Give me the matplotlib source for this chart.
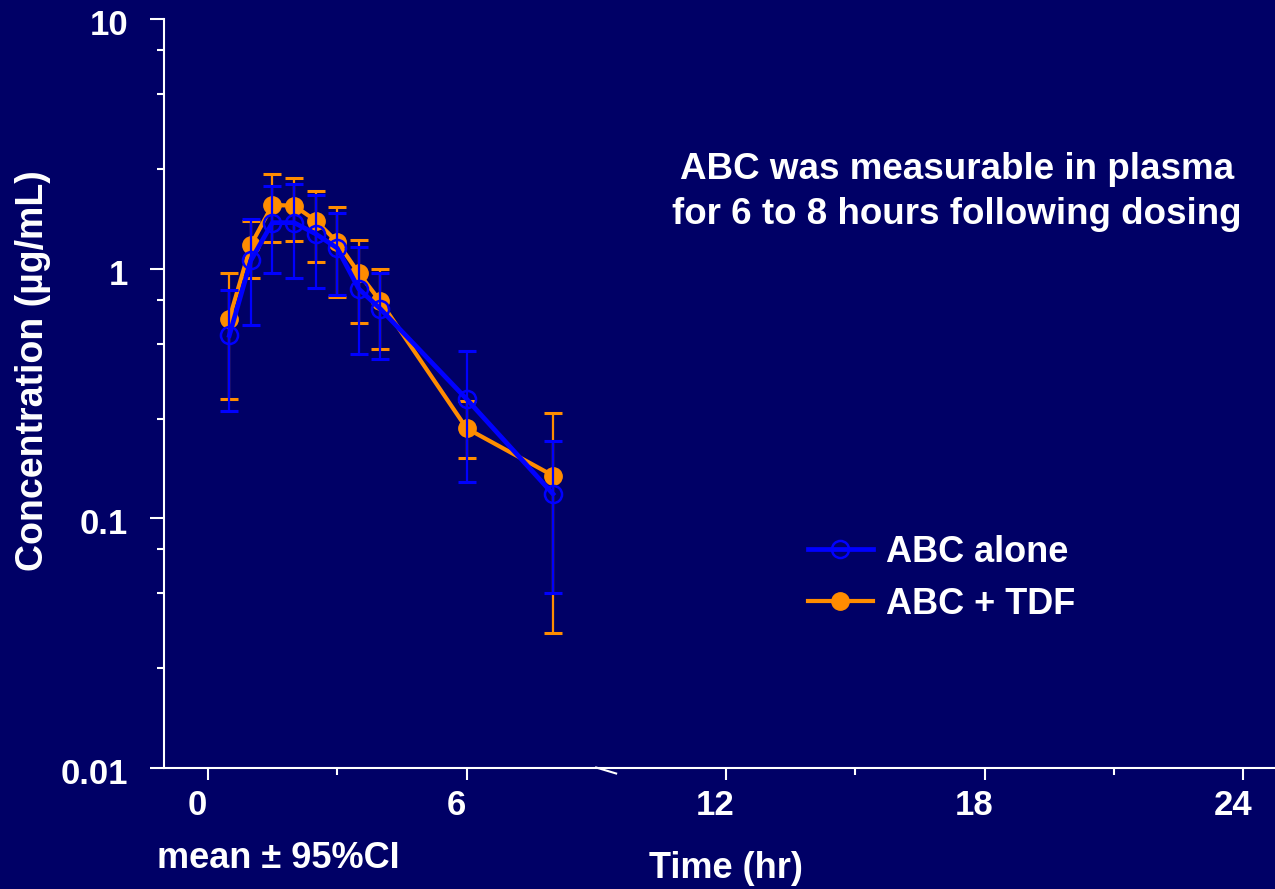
import numpy as np
import matplotlib
matplotlib.use("Agg")
import matplotlib.pyplot as plt
from matplotlib.transforms import ScaledTranslation, blended_transform_factory
from matplotlib.ticker import FixedLocator, NullFormatter

plt.rcParams["font.family"] = ["Liberation Sans", "DejaVu Sans"]
plt.rcParams["font.weight"] = "bold"

BG, BLUE, ORANGE, WHITE = "#000066", "#0000FF", "#FF8C00", "white"

# ── data ──────────────────────────────────────────────────────────────────────
time_hr   = [0.5, 1, 1.5, 2, 2.5, 3, 3.5, 4, 6, 8]
abc_alone = [0.54, 1.08, 1.53, 1.53, 1.38, 1.21, 0.83, 0.69, 0.30, 0.125]
alone_lo  = [0.27, 0.595, 0.96, 0.915, 0.84, 0.785, 0.455, 0.435, 0.14, 0.050]
alone_hi  = [0.82, 1.58, 2.15, 2.19, 1.97, 1.68, 1.22, 0.96, 0.467, 0.203]
abc_tdf   = [0.63, 1.245, 1.80, 1.79, 1.56, 1.28, 0.96, 0.74, 0.229, 0.148]
tdf_lo    = [0.30, 0.918, 1.28, 1.29, 1.067, 0.773, 0.604, 0.475, 0.174, 0.0345]
tdf_hi    = [0.96, 1.55, 2.39, 2.30, 2.05, 1.76, 1.30, 1.00, 0.295, 0.264]

x_major = [0, 6, 12, 18, 24]
x_minor = [3, 15, 21]
y_major = [0.01, 0.1, 1, 10]
y_labels = ["0.01", "0.1", "1", "10"]
y_minor = [m * d for d in (0.01, 0.1, 1) for m in (2.5, 5, 7.5)]

W, H = 1275, 889
fig = plt.figure(figsize=(W/100, H/100), dpi=100, facecolor=BG)
ax = fig.add_axes([164.3/W, 1-767.5/H, 1-164.3/W, (767.5-19.3)/H])
ax.set_facecolor(BG)

def yerr(v, lo, hi):
    v, lo, hi = map(np.asarray, (v, lo, hi))
    return np.vstack([v-lo, hi-v])

# orange first, blue on top
ax.errorbar(time_hr, abc_tdf, yerr=yerr(abc_tdf, tdf_lo, tdf_hi), fmt="none",
            ecolor=ORANGE, elinewidth=1.6, capsize=6.5, capthick=2.2, zorder=2)
ax.plot(time_hr, abc_tdf, "-o", color=ORANGE, lw=3.0, ms=12.5, mfc=ORANGE, mec=ORANGE,
        zorder=3, label="ABC + TDF")
ax.errorbar(time_hr, abc_alone, yerr=yerr(abc_alone, alone_lo, alone_hi), fmt="none",
            ecolor=BLUE, elinewidth=1.6, capsize=6.5, capthick=2.2, zorder=4)
ax.plot(time_hr, abc_alone, "-o", color=BLUE, lw=3.4, ms=12.3, mfc="none", mec=BLUE, mew=1.8,
        zorder=5, label="ABC alone")

ax.set_yscale("log")
ax.set_ylim(0.01, 10)
ax.set_xlim(-1.006, 24.73)

for s in ("top", "right"):
    ax.spines[s].set_visible(False)
for s in ("left", "bottom"):
    ax.spines[s].set_color(WHITE); ax.spines[s].set_linewidth(1.5)

ax.xaxis.set_major_locator(FixedLocator(x_major))
ax.xaxis.set_minor_locator(FixedLocator(x_minor))
ax.set_xticklabels([str(v) for v in x_major])
ax.yaxis.set_major_locator(FixedLocator(y_major))
ax.yaxis.set_minor_locator(FixedLocator(y_minor))
ax.yaxis.set_minor_formatter(NullFormatter())
ax.set_yticklabels(y_labels)

ax.tick_params(axis="x", which="major", direction="out", length=8.6, width=1.5,
               color=WHITE, labelcolor=WHITE, labelsize=25, pad=7)
ax.tick_params(axis="x", which="minor", direction="out", length=5, width=1.5, color=WHITE)
ax.tick_params(axis="y", which="major", direction="out", length=10, width=1.5,
               color=WHITE, labelcolor=WHITE, labelsize=25, pad=16)
ax.tick_params(axis="y", which="minor", direction="out", length=5, width=1.5, color=WHITE)
for lbl in ax.get_xticklabels():
    lbl.set_fontweight("bold")
    lbl.set_transform(lbl.get_transform() + ScaledTranslation(-0.10, 0, fig.dpi_scale_trans))
for lbl in ax.get_yticklabels():
    lbl.set_fontweight("bold")
    lbl.set_transform(lbl.get_transform() + ScaledTranslation(0, -0.03, fig.dpi_scale_trans))

# slanted tick at 9 h (as in the original slide)
tr = blended_transform_factory(ax.transData, ax.transAxes)
ax.plot([9, 9 + 20/43.16], [0, -6/748.2], color=WHITE, lw=1.5, transform=tr, clip_on=False)

# labels
fig.text(33/W, 1-371/H, "Concentration (\u00b5g/mL)", rotation=90, color=WHITE,
         fontsize=27, fontweight="bold", ha="center", va="center")
fig.text(726/W, 1-868/H, "Time (hr)", color=WHITE, fontsize=26, fontweight="bold",
         ha="center", va="center")
fig.text(157/W, 1-858/H, "mean \u00b1 95%CI", color=WHITE, fontsize=26, fontweight="bold",
         ha="left", va="center")
fig.text(957/W, 1-192/H, "ABC was measurable in plasma\nfor 6 to 8 hours following dosing",
         color=WHITE, fontsize=26.5, fontweight="bold", ha="center", va="center", linespacing=1.4)

handles, labels = ax.get_legend_handles_labels()
leg = ax.legend(handles[::-1], labels[::-1], loc="upper left",
                bbox_to_anchor=(808/W, 1-535/H), bbox_transform=fig.transFigure,
                frameon=False, fontsize=26, handlelength=1.8, handletextpad=0.35,
                labelspacing=0.47, borderpad=0, borderaxespad=0)
for t in leg.get_texts():
    t.set_color(WHITE); t.set_fontweight("bold")

fig.savefig("out.png", dpi=100, facecolor=BG)
